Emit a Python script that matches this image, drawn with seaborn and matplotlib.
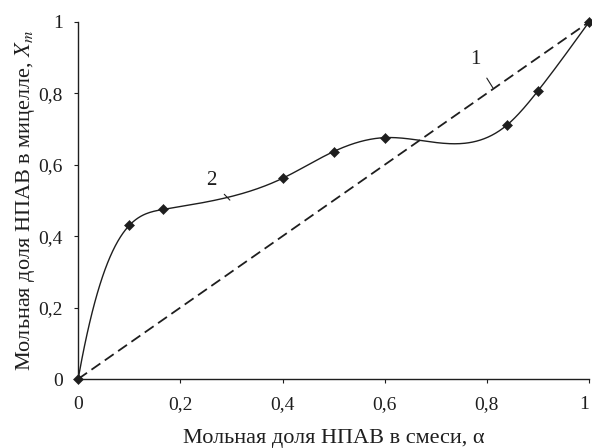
import numpy as np
import pandas as pd
import matplotlib
matplotlib.use('Agg')
import matplotlib.pyplot as plt
import seaborn as sns

# ideal mixing line (1) and experimental points (2)
ideal_a = [0.0, 1.0]
ideal_x = [0.0, 1.0]
alpha = [0.0, 0.1, 0.167, 0.4, 0.5, 0.6, 0.84, 0.9, 1.0]
x_mic = [0.0, 0.43, 0.475, 0.562, 0.637, 0.676, 0.712, 0.807, 1.0]
ticks = [0, 0.2, 0.4, 0.6, 0.8, 1]
tick_labels = ['0', '0,2', '0,4', '0,6', '0,8', '1']


def smooth_curve(x, y, start_slope=8.0, n=400):
    # cubic spline: clamped slope at the start, natural at the end (only for drawing)
    x = np.asarray(x, float)
    y = np.asarray(y, float)
    k = len(x)
    h = np.diff(x)
    d = np.diff(y) / h
    A = np.zeros((k, k))
    b = np.zeros(k)
    A[0, 0] = 2 * h[0]
    A[0, 1] = h[0]
    b[0] = 3 * (d[0] - start_slope)
    A[-1, -1] = 1
    for i in range(1, k - 1):
        A[i, i - 1] = h[i - 1]
        A[i, i] = 2 * (h[i - 1] + h[i])
        A[i, i + 1] = h[i]
        b[i] = 3 * (d[i] - d[i - 1])
    c = np.linalg.solve(A, b)
    xs = np.linspace(x[0], x[-1], n)
    idx = np.clip(np.searchsorted(x, xs) - 1, 0, k - 2)
    dx = xs - x[idx]
    hi = h[idx]
    bb = d[idx] - hi * (2 * c[idx] + c[idx + 1]) / 3
    dd = (c[idx + 1] - c[idx]) / (3 * hi)
    ys = y[idx] + bb * dx + c[idx] * dx ** 2 + dd * dx ** 3
    return xs, ys


sns.set_style('ticks')
plt.rcParams['font.family'] = ['Liberation Serif', 'DejaVu Serif']
plt.rcParams['mathtext.fontset'] = 'stix'

col = '#1e1e1e'
fig = plt.figure(figsize=(5.92, 4.48), dpi=100)
ax = fig.add_axes([0.132, 0.154, 0.863, 0.797])

sns.lineplot(x=ideal_a, y=ideal_x, ax=ax, color=col, lw=1.3,
             linestyle=(0, (6, 3)), clip_on=False)

xs, ys = smooth_curve(alpha, x_mic)
sns.lineplot(x=xs, y=ys, ax=ax, color=col, lw=1.0, clip_on=False, sort=False)

df = pd.DataFrame({'a': alpha, 'xm': x_mic})
sns.scatterplot(data=df, x='a', y='xm', ax=ax, marker='D', s=26,
                color=col, edgecolor=col, clip_on=False, zorder=5)

ax.set_xlim(0, 1)
ax.set_ylim(0, 1)
ax.set_xticks(ticks)
ax.set_xticklabels(tick_labels)
ax.set_yticks(ticks)
ax.set_yticklabels(tick_labels)
ax.tick_params(direction='out', length=3, width=0.8, labelsize=14, colors=col)
ax.tick_params(axis='x', pad=9)
ax.tick_params(axis='y', pad=8)
ax.get_xticklabels()[-1].set_ha('right')
for s in ['left', 'bottom']:
    ax.spines[s].set_color(col)
    ax.spines[s].set_linewidth(1.0)
sns.despine(ax=ax)

ax.set_xlabel('Мольная доля НПАВ в смеси, α', fontsize=16, color=col, labelpad=12)
ax.set_ylabel('Мольная доля НПАВ в мицелле, $X_m$', fontsize=16, color=col, labelpad=1)

# curve labels with leader lines
ax.annotate('1', xy=(0.812, 0.815), xytext=(0.777, 0.895), fontsize=15, color=col,
            ha='center', va='center',
            arrowprops=dict(arrowstyle='-', color=col, lw=0.8, shrinkA=5, shrinkB=0))
ax.annotate('2', xy=(0.297, 0.501), xytext=(0.26, 0.556), fontsize=15, color=col,
            ha='center', va='center',
            arrowprops=dict(arrowstyle='-', color=col, lw=0.8, shrinkA=5, shrinkB=0))

fig.savefig('out.png', dpi=100)
